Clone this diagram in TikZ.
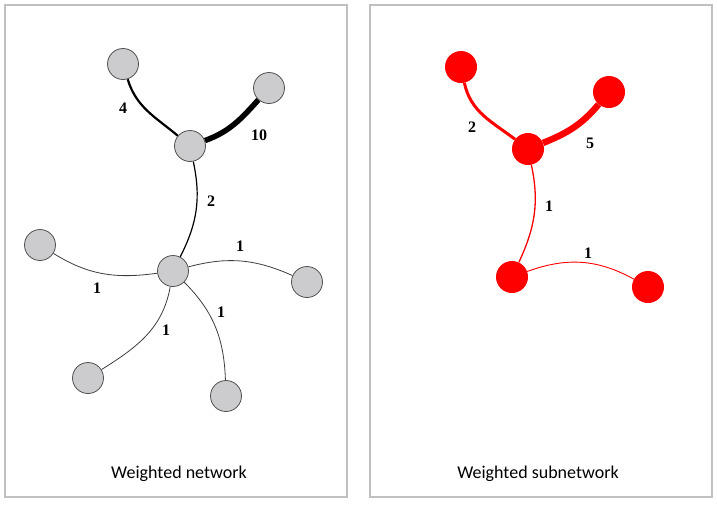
\documentclass[tikz,border=0pt]{standalone}
\usepackage{fontspec}
\setmainfont{Liberation Serif}
\newfontfamily\capfont{Carlito}
\usetikzlibrary{backgrounds}
\definecolor{graynode}{RGB}{204,204,206}
\definecolor{framegray}{RGB}{192,192,192}
\definecolor{nodeline}{RGB}{80,80,80}
\definecolor{thinedge}{RGB}{60,60,60}
\definecolor{redn}{RGB}{255,0,0}
\begin{document}
\begin{tikzpicture}[x=1pt,y=-1pt,
  gnode/.style={circle,draw=nodeline,line width=0.8pt,fill=graynode,minimum size=31pt,inner sep=0pt},
  rnode/.style={circle,fill=redn,minimum size=32pt,inner sep=0pt},
  wlabel/.style={font=\bfseries\fontsize{16}{16}\selectfont,inner sep=0pt},
  captext/.style={font=\capfont\fontsize{18}{18}\selectfont,inner sep=0pt,anchor=base},
  panel/.style={draw=framegray,line width=2pt},
  lightedge/.style={draw=thinedge,line width=0.8pt},
  redge/.style={draw=redn}]
\useasboundingbox (0,0) rectangle (717,504);
\draw[panel] (5,5) rectangle (347,497);
\draw[panel] (370,5) rectangle (712,497);

% left network nodes
\node[gnode] (A) at (123,64) {};
\node[gnode] (B) at (269,88) {};
\node[gnode] (C) at (190,146) {};
\node[gnode] (D) at (40,245) {};
\node[gnode] (E) at (173,271) {};
\node[gnode] (F) at (307,282) {};
\node[gnode] (G) at (88,378) {};
\node[gnode] (H) at (226,396) {};

\begin{scope}[on background layer]
\draw[line width=2.2pt] (A) to[out=-73,in=140] (C);
\draw[line width=5.5pt] (B) to[out=228,in=20] (C);
\draw[line width=1.2pt] (C) to[out=-78,in=63] (E);
\draw[lightedge] (E) to[out=188,in=-32] (D);
\draw[lightedge] (E) to[out=15,in=156] (F);
\draw[lightedge] (E) to[out=-100,in=32] (G);
\draw[lightedge] (E) to[out=-45,in=92] (H);
\end{scope}

\node[wlabel] (lAC) at (123,108) {4};
\node[wlabel] (lBC) at (259,135) {10};
\node[wlabel] (lCE) at (211,201) {2};
\node[wlabel] (lEF) at (240,246) {1};
\node[wlabel] (lED) at (97,288) {1};
\node[wlabel] (lEG) at (166,330) {1};
\node[wlabel] (lEH) at (221,312) {1};

\node[captext] (capL) at (179,478) {Weighted network};

% right subnetwork nodes
\node[rnode] (a) at (461,67) {};
\node[rnode] (b) at (609,92) {};
\node[rnode] (c) at (528,149) {};
\node[rnode] (d) at (512,277) {};
\node[rnode] (e) at (648,287) {};

\begin{scope}[on background layer]
\draw[redge,line width=3pt] (a) to[out=-78,in=143] (c);
\draw[redge,line width=6.5pt] (b) to[out=230,in=22] (c);
\draw[redge,line width=1.3pt] (c) to[out=-78,in=65] (d);
\draw[redge,line width=0.9pt] (d) to[out=20,in=151] (e);
\end{scope}

\node[wlabel] (lac) at (472,127) {2};
\node[wlabel] (lbc) at (590,143) {5};
\node[wlabel] (lcd) at (549,206) {1};
\node[wlabel] (lde) at (588,253) {1};

\node[captext] (capR) at (538,478) {Weighted subnetwork};
\end{tikzpicture}
\end{document}
